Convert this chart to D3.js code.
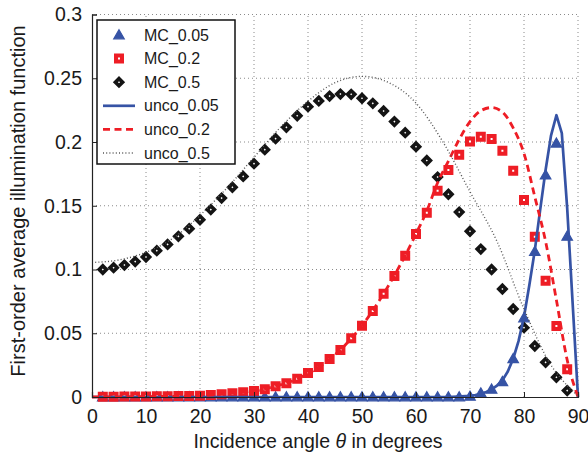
<!DOCTYPE html>
<html>
<head>
<meta charset="utf-8">
<script src="https://cdn.jsdelivr.net/npm/d3@7"></script>
<style>
  html, body { margin: 0; padding: 0; background: #fff; }
  svg { display: block; font-family: "Liberation Sans", Arial, Helvetica, sans-serif; }
</style>
</head>
<body>
<svg id="chart" width="588" height="457"></svg>
<script>
// Monte Carlo samples (every 2 degrees)
const mcAngles = [2,4,6,8,10,12,14,16,18,20,22,24,26,28,30,32,34,36,38,40,42,44,
                  46,48,50,52,54,56,58,60,62,64,66,68,70,72,74,76,78,80,82,84,86,88];
const mc005 = [0,0,0,0,0,0,0,0,0,0,0,0,0,0,0,0,0,0,0,0,0,0,
               0,0,0,0,0,0,0,0,0,0,0,0,0.0005,0.003,0.006,0.012,0.030,0.062,0.114,0.174,0.199,0.126];
const mc02 = [0.0002,0.0002,0.0003,0.0003,0.0004,0.0005,0.0006,0.0007,0.0008,0.001,0.0015,0.0022,
              0.003,0.0038,0.0047,0.006,0.0085,0.0108,0.0143,0.0188,0.0236,0.0298,
              0.0369,0.046,0.0559,0.0675,0.081,0.0949,0.1108,0.1278,0.1446,0.1618,0.178,0.190,
              0.2003,0.2042,0.2024,0.1932,0.1775,0.1545,0.1257,0.0912,0.0557,0.0217];
const mc05 = [0.100,0.1014,0.1035,0.1062,0.1098,0.1148,0.1197,0.126,0.132,0.139,0.147,0.156,
              0.1645,0.173,0.183,0.194,0.2026,0.2115,0.2206,0.2277,0.2322,0.236,
              0.2376,0.2374,0.2343,0.2303,0.2243,0.216,0.2073,0.1963,0.1855,0.1725,0.159,0.145,
              0.130,0.116,0.100,0.0847,0.069,0.0544,0.040,0.0272,0.0155,0.005];

// Uncorrelated-surface curves
const uncoAngles005 = [0,60,66,70,71,72,73,74,75,76,77,78,79,80,81,82,83,84,85,86,87,88,89,90];
const unco005 = [0,0,0,0.001,0.0015,0.0025,0.004,0.006,0.009,0.013,0.020,0.030,0.044,0.063,
                 0.088,0.115,0.147,0.178,0.205,0.221,0.207,0.148,0.074,0];
const uncoAngles02 = [0,10,20,26,30,34,38,42,46,50,54,58,60,62,64,66,68,70,72,74,76,78,80,82,84,86,88,90];
const unco02 = [0,0.0003,0.001,0.0032,0.0047,0.0085,0.0142,0.0235,0.037,0.056,0.081,0.111,0.128,
                0.146,0.168,0.185,0.202,0.216,0.2245,0.227,0.2235,0.211,0.191,0.157,0.122,0.076,0.029,0];
const uncoAngles05 = [0,5,10,15,20,25,30,35,40,45,50,55,60,65,70,75,80,85,88,90];
const unco05 = [0.1055,0.1075,0.1135,0.1245,0.1425,0.164,0.188,0.212,0.232,0.2465,0.2515,0.2465,
                0.2305,0.200,0.161,0.122,0.069,0.025,0.009,0.001];

const xTicks = [0,10,20,30,40,50,60,70,80,90];
const yTicks = [0,0.05,0.1,0.15,0.2,0.25,0.3];
const yTickLabels = ["0","0.05","0.1","0.15","0.2","0.25","0.3"];
const legendLabels = ["MC_0.05","MC_0.2","MC_0.5","unco_0.05","unco_0.2","unco_0.5"];

const BLUE = "#3653a5", RED = "#ee1d25", BLACK = "#141414", DOT = "#555";

const svg = d3.select("#chart");
const x = d3.scaleLinear().domain([0, 90]).range([92, 578]);
const y = d3.scaleLinear().domain([0, 0.3]).range([397, 14.5]);

// dotted grid (the 90° and 0.3 lines close the box)
const grid = svg.append("g").attr("stroke", "#8a8a8a").attr("stroke-width", 1)
  .attr("stroke-dasharray", "1,3").attr("fill", "none");
grid.selectAll("line.v").data(xTicks.filter(d => d > 0)).join("line")
  .attr("x1", d => x(d)).attr("x2", d => x(d)).attr("y1", y(0)).attr("y2", y(0.3));
grid.selectAll("line.h").data(yTicks.filter(d => d > 0)).join("line")
  .attr("y1", d => y(d)).attr("y2", d => y(d)).attr("x1", x(0)).attr("x2", x(90));

// marker generators
const triPath = d3.symbol().type(d3.symbolTriangle).size(48)();
const sqPath = d3.symbol().type(d3.symbolSquare).size(36)();
const diaPath = d3.symbol().type(d3.symbolSquare).size(26)();

function drawTriangle(g, cx, cy) {
  g.append("path").attr("d", triPath).attr("transform", `translate(${cx},${cy + 0.8})`)
    .attr("fill", BLUE).attr("stroke", BLUE).attr("stroke-width", 1.2);
}
function drawSquare(g, cx, cy) {
  g.append("path").attr("d", sqPath).attr("transform", `translate(${cx},${cy})`)
    .attr("fill", "#fff").attr("stroke", RED).attr("stroke-width", 4);
}
function drawDiamond(g, cx, cy) {
  g.append("path").attr("d", diaPath).attr("transform", `translate(${cx},${cy}) rotate(45)`)
    .attr("fill", "#fff").attr("stroke", BLACK).attr("stroke-width", 3.6)
    .attr("stroke-linejoin", "miter");
}

const marks = svg.append("g");
const gTri = marks.append("g"), gSq = marks.append("g"), gDia = marks.append("g");
mcAngles.forEach((a, i) => drawTriangle(gTri, x(a), y(mc005[i])));
mcAngles.forEach((a, i) => drawSquare(gSq, x(a), y(mc02[i])));
mcAngles.forEach((a, i) => drawDiamond(gDia, x(a), y(mc05[i])));

// uncorrelated curves
const lineLinear = d3.line().x(d => x(d[0])).y(d => y(d[1]));
const lineSmooth = d3.line().x(d => x(d[0])).y(d => y(d[1])).curve(d3.curveMonotoneX);
const zip = (a, b) => a.map((v, i) => [v, b[i]]);

svg.append("path").datum(zip(uncoAngles005, unco005)).attr("d", lineLinear)
  .attr("fill", "none").attr("stroke", BLUE).attr("stroke-width", 2.7).attr("stroke-linejoin", "round");
svg.append("path").datum(zip(uncoAngles02, unco02)).attr("d", lineSmooth)
  .attr("fill", "none").attr("stroke", RED).attr("stroke-width", 2.8).attr("stroke-dasharray", "7,4.5");
svg.append("path").datum(zip(uncoAngles05, unco05)).attr("d", lineSmooth)
  .attr("fill", "none").attr("stroke", DOT).attr("stroke-width", 1.4).attr("stroke-dasharray", "1,2.2");

// axes: ticks pointing into the plot
const xAxis = d3.axisBottom(x).tickValues(xTicks).tickSize(-5).tickPadding(12).tickFormat(d3.format("d"));
const yAxis = d3.axisLeft(y).tickValues(yTicks).tickSize(-5).tickPadding(10)
  .tickFormat((d, i) => yTickLabels[i]);

const gx = svg.append("g").attr("transform", `translate(0,${y(0)})`).call(xAxis);
const gy = svg.append("g").attr("transform", `translate(${x(0)},0)`).call(yAxis);
[gx, gy].forEach(g => {
  g.select(".domain").attr("stroke", "#222").attr("stroke-width", 1.2);
  g.selectAll(".tick line").attr("stroke", "#222").attr("stroke-width", 1);
  g.selectAll(".tick text").attr("fill", "#1a1a1a").style("font-size", "19.5px")
    .style("font-family", '"Liberation Sans", Arial, sans-serif');
});

// axis titles
const xTitle = svg.append("text").attr("x", 318).attr("y", 448).attr("text-anchor", "middle")
  .attr("fill", "#1a1a1a").style("font-size", "19.5px");
xTitle.append("tspan").text("Incidence angle ");
xTitle.append("tspan").style("font-style", "italic").text("θ");
xTitle.append("tspan").text(" in degrees");

svg.append("text").attr("transform", "translate(25,201) rotate(-90)").attr("text-anchor", "middle")
  .attr("fill", "#1a1a1a").style("font-size", "20px").text("First-order average illumination function");

// legend
const lg = svg.append("g");
lg.append("rect").attr("x", 97).attr("y", 20).attr("width", 138).attr("height", 144)
  .attr("fill", "#fff").attr("stroke", "#111").attr("stroke-width", 1.5);
const rowY = i => 35 + i * 23.6;
drawTriangle(lg, 119, rowY(0));
drawSquare(lg, 119, rowY(1));
drawDiamond(lg, 119, rowY(2));
const lineStyles = [
  { stroke: BLUE, w: 2.7, dash: null },
  { stroke: RED, w: 2.8, dash: "7,4.5" },
  { stroke: DOT, w: 1.4, dash: "1,2.2" }
];
lineStyles.forEach((s, k) => {
  lg.append("line").attr("x1", 103).attr("x2", 135).attr("y1", rowY(3 + k)).attr("y2", rowY(3 + k))
    .attr("stroke", s.stroke).attr("stroke-width", s.w).attr("stroke-dasharray", s.dash);
});
lg.selectAll("text.lab").data(legendLabels).join("text")
  .attr("x", 144).attr("y", (d, i) => rowY(i)).attr("dy", "0.35em")
  .attr("fill", "#1a1a1a").style("font-size", "16px").text(d => d);
</script>
</body>
</html>
